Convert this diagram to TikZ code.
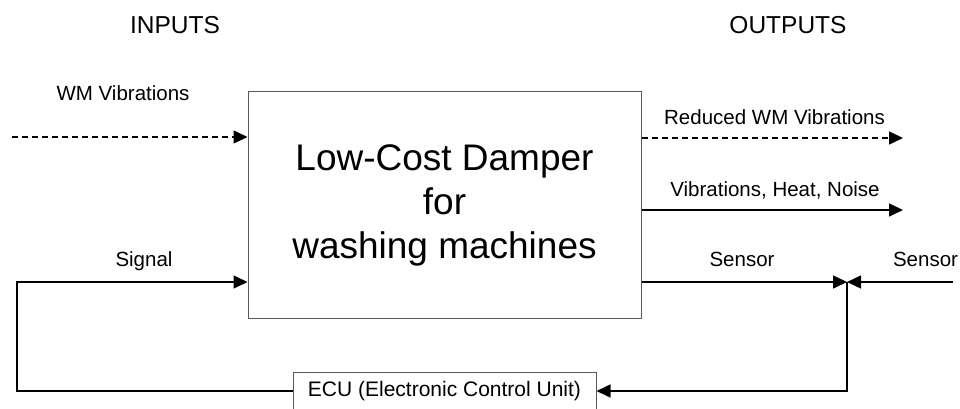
\documentclass[tikz,border=0pt]{standalone}
\usepackage{fontspec}
\setmainfont{Liberation Sans}
\usetikzlibrary{arrows.meta}
\begin{document}
\begin{tikzpicture}[x=1pt,y=-1pt,
  lbl/.style={inner sep=0pt,anchor=base,font=\fontsize{20.5}{24}\selectfont},
  head/.style={inner sep=0pt,anchor=base,font=\fontsize{24.5}{28}\selectfont},
  flow/.style={line width=1.5pt,-{Triangle[length=14pt,width=13pt]}},
  plain/.style={line width=1.5pt},
  dflow/.style={flow,dash pattern=on 6pt off 4pt},
  blk/.style={draw=black!65,line width=1pt,fill=white,inner sep=0pt}]
\useasboundingbox (0,0) rectangle (960,409);
% main block
\node[blk,minimum width=393pt,minimum height=226pt,align=center,
      font=\fontsize{37}{44}\selectfont] (damper) at (444.5,205)
      {Low-Cost Damper\\for\\washing machines};
% ECU
\node[blk,minimum width=303pt,minimum height=38pt,
      font=\fontsize{21}{24}\selectfont] (ecu) at (444.5,391)
      {ECU (Electronic Control Unit)};
% headings
\node[head] (inputs) at (175,34) {INPUTS};
\node[head] (outputs) at (788,34) {OUTPUTS};
% labels
\node[lbl] (lwm) at (123,100.7) {WM Vibrations};
\node[lbl] (lred) at (774.5,124.3) {Reduced WM Vibrations};
\node[lbl] (lvhn) at (775,196.7) {Vibrations, Heat, Noise};
\node[lbl] (lsig) at (144,266) {Signal};
\node[lbl] (lsen) at (742,266) {Sensor};
\node[lbl] (lsen2) at (925.5,266) {Sensor};
% coordinates
\coordinate (wmin) at (12,137);
\coordinate (redout) at (903,138);
\coordinate (vhnout) at (903,210);
\coordinate (sigleft) at (17,282);
\coordinate (botleft) at (17,391);
\coordinate (j) at (847,282);
\coordinate (senright) at (953,282);
\coordinate (botright) at (847,391);
% connectors
\draw[dflow] (wmin) -- (damper.west |- wmin);
\draw[dflow] (damper.east |- redout) -- (redout);
\draw[flow] (damper.east |- vhnout) -- (vhnout);
\draw[flow] (damper.east |- j) -- (j);
\draw[flow] (senright) -- (j);
\draw[flow] (j) -- (botright) -- (ecu.east);
\draw[flow] (ecu.west) -- (botleft) -- (sigleft) -- (damper.west |- sigleft);
\end{tikzpicture}
\end{document}
